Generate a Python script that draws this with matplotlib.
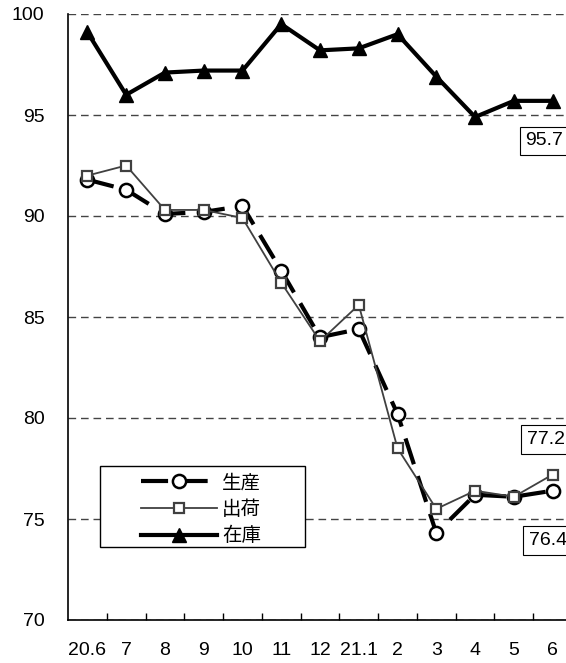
import numpy as np
import matplotlib
matplotlib.use("Agg")
import matplotlib.pyplot as plt
from matplotlib.lines import Line2D
from matplotlib.patches import Rectangle

plt.rcParams['font.family'] = ['Liberation Sans', 'Noto Sans CJK JP']

months = ["20.6", "7", "8", "9", "10", "11", "12", "21.1", "2", "3", "4", "5", "6"]
production = [91.8, 91.3, 90.1, 90.2, 90.5, 87.3, 84.0, 84.4, 80.2, 74.3, 76.2, 76.1, 76.4]
shipments = [92.0, 92.5, 90.3, 90.3, 89.9, 86.7, 83.8, 85.6, 78.5, 75.5, 76.4, 76.1, 77.2]
inventory = [99.1, 96.0, 97.1, 97.2, 97.2, 99.5, 98.2, 98.3, 99.0, 96.9, 94.9, 95.7, 95.7]
names = ["生産", "出荷", "在庫"]

fig = plt.figure(figsize=(5.66, 6.63), dpi=100)
# plot area runs a little past the right edge, as in the original
ax = fig.add_axes([68 / 566, 43 / 663, 504 / 566, 606 / 663])

x = np.arange(len(months))

prod_style = dict(color='black', lw=3, dashes=(6.5, 3), marker='o', ms=9.5,
                  mfc='white', mec='black', mew=1.8)
ship_style = dict(color='#404040', lw=1.3, marker='s', ms=7.5,
                  mfc='white', mec='#404040', mew=1.6)
inv_style = dict(color='black', lw=3, marker='^', ms=10.5, mfc='black', mec='black')

ax.plot(x, production, zorder=3, **prod_style)
ax.plot(x, shipments, zorder=4, **ship_style)
ax.plot(x, inventory, zorder=5, **inv_style)

ax.set_xlim(-0.5, len(months) - 0.5)
ax.set_ylim(70, 100)
ax.set_yticks(np.arange(70, 101, 5))
ax.set_xticks(x)
ax.set_xticklabels(months)
ax.set_xticks(x[:-1] + 0.5, minor=True)
ax.tick_params(axis='x', which='major', length=0, pad=16, labelsize=14)
ax.tick_params(axis='x', which='minor', direction='in', length=5, width=1)
ax.tick_params(axis='y', length=0, pad=17, labelsize=14)

ax.yaxis.grid(True, color='#444444', lw=1, dashes=(5.5, 3.5))
ax.set_axisbelow(True)
for s in ['top', 'right']:
    ax.spines[s].set_visible(False)
for s in ['left', 'bottom']:
    ax.spines[s].set_linewidth(1.2)

box = dict(boxstyle='square,pad=0.3', fc='white', ec='black', lw=0.8)
ax.annotate(f"{inventory[-1]}", xy=(x[-1], inventory[-1]), xytext=(-27, -40),
            textcoords='offset pixels', ha='left', va='center', fontsize=14,
            bbox=box, annotation_clip=False, zorder=6)
ax.annotate(f"{shipments[-1]}", xy=(x[-1], shipments[-1]), xytext=(-26, 35),
            textcoords='offset pixels', ha='left', va='center', fontsize=14,
            bbox=box, annotation_clip=False, zorder=6)
ax.annotate(f"{production[-1]}", xy=(x[-1], production[-1]), xytext=(-24, -50),
            textcoords='offset pixels', ha='left', va='center', fontsize=14,
            bbox=box, annotation_clip=False, zorder=6)

# legend frame is wider than its contents in the original
ax.add_patch(Rectangle((0.0635, 0.1205), 0.4067, 0.1337, transform=ax.transAxes,
                       fc='white', ec='black', lw=1, zorder=7))
handles = [Line2D([], [], **prod_style), Line2D([], [], **ship_style),
           Line2D([], [], **inv_style)]
leg = ax.legend(handles, names, loc='upper left', bbox_to_anchor=(0.145, 0.24),
                borderaxespad=0, borderpad=0, fontsize=14, handlelength=3.9,
                handletextpad=0.25, labelspacing=0.42, frameon=False)
leg.set_zorder(8)

fig.savefig("out.png", dpi=100)
